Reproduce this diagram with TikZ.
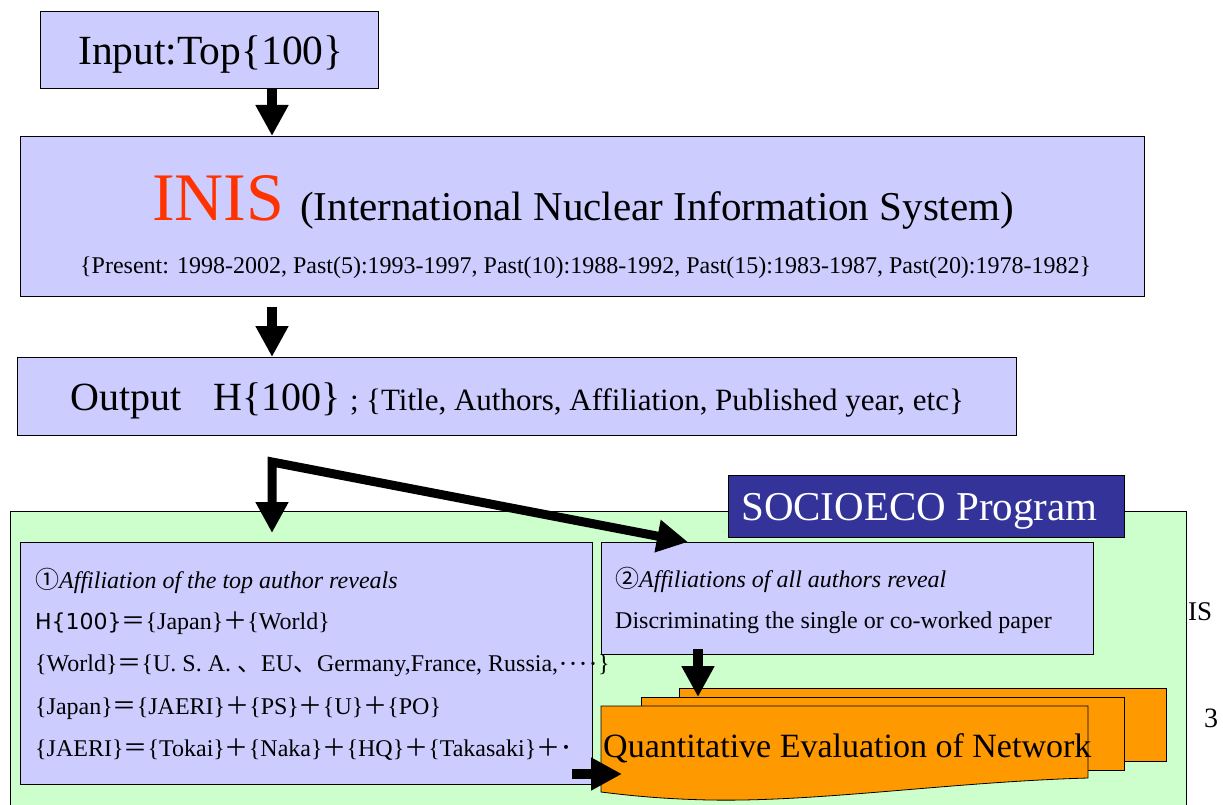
\documentclass[tikz,border=0pt]{standalone}
\usepackage{fontspec}
\setmainfont{Liberation Serif}
\newfontfamily\jpf{Noto Sans CJK JP}
\newfontfamily\gothf{DejaVu Sans}
\usetikzlibrary{arrows.meta,calc}
\newcommand{\fsz}[1]{\fontsize{#1}{#1}\selectfont}
\definecolor{lav}{HTML}{CCCCFF}
\definecolor{mint}{HTML}{CCFFCC}
\definecolor{orng}{HTML}{FF9900}
\definecolor{socblue}{HTML}{333399}
\definecolor{inisred}{HTML}{FF3300}
\begin{document}
\begin{tikzpicture}[x=1pt,y=-1pt,
  box/.style={draw=black, line width=0.8pt, fill=lav, inner sep=0pt, anchor=north west},
  txt/.style={anchor=base west, inner sep=0pt, text=black},
  bigarrow/.style={line width=10pt, -{Triangle[width=31pt,length=31pt]}},
  twoarrow/.style={line width=9pt, line join=miter, {Triangle[width=31pt,length=31pt]}-{Triangle[width=31pt,length=31pt]}},
  doc/.style={draw=black, line width=0.8pt, fill=orng}]
\useasboundingbox (0,0) rectangle (1223,805);
\clip (0,0) rectangle (1223,805);

% text partly outside the program frame
\node[txt, font=\fsz{27}] (isx) at (1188,620) {IS};
\node[txt, font=\fsz{28}] (three) at (1204,727) {3};

% SOCIOECO frame
\node[box, fill=mint, minimum width=1176pt, minimum height=320pt] (green) at (10,511) {};
\node[box, fill=socblue, minimum width=396pt, minimum height=62pt] (soc) at (728,475) {};
\node[txt, text=white, font=\fsz{41}] (soct) at (741,520) {SOCIOECO Program};

% Input
\node[box, minimum width=338pt, minimum height=77pt] (input) at (40,11) {};
\node[txt, font=\fsz{41.5}] (inputt) at (78,65) {Input:Top\{100\}};

% INIS
\node[box, minimum width=1124pt, minimum height=160pt] (inis) at (20,136) {};
\node[txt, text=inisred, font=\fsz{68}] (inist) at (152,220) {INIS};
\node[txt, font=\fsz{41}] (inisl) at (300,220) {(International Nuclear Information System)};
\node[txt, font=\fsz{24}] (pres) at (80,273) {\{Present: 1998-2002, Past(5):1993-1997, Past(10):1988-1992, Past(15):1983-1987, Past(20):1978-1982\}};

% Output
\node[box, minimum width=999pt, minimum height=78pt] (out) at (17,357) {};
\node[txt, font=\fsz{40}] (outa) at (70,410) {Output};
\node[txt, font=\fsz{40}] (outb) at (213,410) {H\{100\}};
\node[txt, font=\fsz{31}] (outc) at (350,410) {;};
\node[txt, font=\fsz{31}] (outd) at (366,410) {\{Title, Authors, Affiliation, Published year, etc\}};

% Box 1
\node[box, minimum width=572pt, minimum height=242pt] (b1) at (20,542) {};
\node[txt, font=\fsz{24}\itshape] (l1) at (35,588) {{\jpf ①}Affiliation of the top author reveals};
\node[txt, font=\fsz{24}] (l2) at (35,629) {{\gothf\fsz{22}H\{100\}}{\jpf ＝}\{Japan\}{\jpf ＋}\{World\}};
\node[txt, font=\fsz{24}] (l3) at (35,671) {\{World\}{\jpf ＝}\{U. S. A. {\jpf 、}EU{\jpf 、}Germany,France, Russia,{\jpf\fsz{20}････}\}};
\node[txt, font=\fsz{24}] (l4) at (35,714) {\{Japan\}{\jpf ＝}\{JAERI\}{\jpf ＋}\{PS\}{\jpf ＋}\{U\}{\jpf ＋}\{PO\}};
\node[txt, font=\fsz{24}] (l5) at (35,756) {\{JAERI\}{\jpf ＝}\{Tokai\}{\jpf ＋}\{Naka\}{\jpf ＋}\{HQ\}{\jpf ＋}\{Takasaki\}{\jpf ＋･}};

% Box 2
\node[box, minimum width=492pt, minimum height=112pt] (b2) at (601,542) {};
\node[txt, font=\fsz{24}\itshape] (m1) at (615,587) {{\jpf ②}Affiliations of all authors reveal};
\node[txt, font=\fsz{24}] (m2) at (615,628) {Discriminating the single or co-worked paper};

% stacked documents
\node[doc, inner sep=0pt, anchor=north west, minimum width=487pt, minimum height=73pt] (docb) at (679,688) {};
\node[doc, inner sep=0pt, anchor=north west, minimum width=483pt, minimum height=73pt] (docm) at (641,697) {};
\draw[doc] (601,706) -- (1088,706) -- (1088,778)
  .. controls (950,782) and (820,802) .. (710,800)
  .. controls (660,799) and (625,795) .. (601,792) -- cycle;
\node[txt, font=\fsz{34}] (qen) at (603,757) {Quantitative Evaluation of Network};

% arrows
\coordinate (ax) at (272,0);
\coordinate (bx) at (698,0);
\coordinate (corner) at (272,462);
\coordinate (t1) at (272,533);
\coordinate (t2) at (688,542);
\coordinate (qtip) at (622,774);
\draw[bigarrow] (input.south -| ax) -- (inis.north -| ax);
\draw[bigarrow] ($(inis.south -| ax)+(0,10)$) -- (out.north -| ax);
\draw[twoarrow] (t1) -- (corner) -- (t2);
\draw[bigarrow] ($(b2.south -| bx)+(0,-6)$) -- (docm.north -| bx);
\draw[bigarrow] (572,774) -- (qtip);
\end{tikzpicture}
\end{document}
